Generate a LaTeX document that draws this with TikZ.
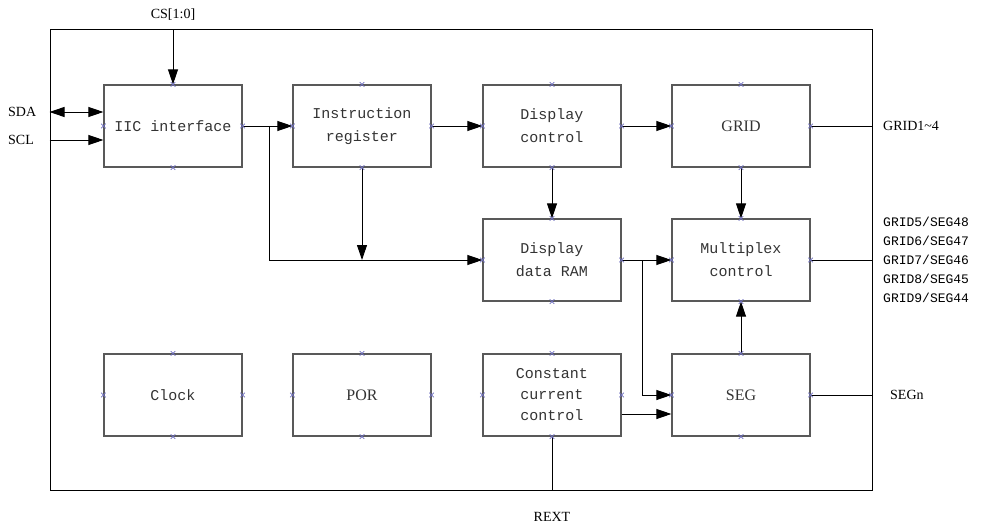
\documentclass[tikz,border=0pt]{standalone}
\usepackage{fontspec}
\setmainfont{Liberation Serif}
\setmonofont{Liberation Mono}
\usetikzlibrary{arrows.meta,positioning,shapes.misc}
\tikzset{
  block/.style={draw=black!65,line width=1.2pt,minimum width=138pt,minimum height=82pt,
    inner sep=0pt,align=center,text=black!80,font=\ttfamily\fontsize{15}{23}\selectfont},
  sig/.style={line width=0.9pt},
  arr/.style={sig,-{Triangle[length=15pt,width=10pt]}},
  pin/.style={font=\fontsize{14}{19}\selectfont,inner sep=0pt},
  cmark/.style={cross out,draw={rgb,255:red,110;green,110;blue,190},line width=0.6pt,
    minimum size=4pt,inner sep=0pt}
}
\begin{document}
\begin{tikzpicture}[x=1pt,y=-1pt]
\useasboundingbox (0,0) rectangle (994,532);
% chip outline
\node[draw,line width=1pt,minimum width=822pt,minimum height=460pt,inner sep=0pt] (chip) at (461,260) {};
% blocks
\node[block] (iic) at (173,126) {IIC interface};
\node[block] (instr) at (362,126) {Instruction\\register};
\node[block] (dispctl) at (552,126) {Display\\control};
\node[block] (grid) at (741,126) {\rmfamily\fontsize{16}{19}\selectfont GRID};
\node[block] (ram) at (552,260) {Display\\data RAM};
\node[block] (mux) at (741,260) {Multiplex\\control};
\node[block] (clock) at (173,395) {Clock};
\node[block] (por) at (362,395) {\rmfamily\fontsize{16}{19}\selectfont POR};
\node[block,font=\ttfamily\fontsize{15}{21}\selectfont] (ccc) at (552,395) {Constant\\current\\control};
\node[block] (seg) at (741,395) {\rmfamily\fontsize{16}{19}\selectfont SEG};
% pins
\node[pin] (cs) at (173,15) {CS[1:0]};
\node[pin,anchor=west] (sda) at (8,112) {SDA};
\node[pin,anchor=west] (scl) at (8,140) {SCL};
\node[pin,anchor=west] (gridout) at (883,126) {GRID1\textasciitilde4};
\node[pin,anchor=west,align=left,font=\ttfamily\fontsize{13}{19}\selectfont] (muxout) at (883,260)
  {GRID5/SEG48\\GRID6/SEG47\\GRID7/SEG46\\GRID8/SEG45\\GRID9/SEG44};
\node[pin,anchor=west] (segout) at (890,395) {SEGn};
\node[pin] (rext) at (552,517) {REXT};
\coordinate (tap1) at (269,126);
\coordinate (tap2) at (642,260);
% connections
\draw[arr] (chip.north -| iic.north) -- (iic.north);
\draw[sig,{Triangle[length=15pt,width=10pt]}-{Triangle[length=15pt,width=10pt]}] (chip.west |- sda) -- (iic.west |- sda);
\draw[arr] (chip.west |- scl) -- (iic.west |- scl);
\draw[arr] (iic) -- (instr);
\draw[arr] (tap1) |- (ram.west);
\draw[arr] (instr.south) -- (instr.south |- ram.west);
\draw[arr] (instr) -- (dispctl);
\draw[arr] (dispctl) -- (ram);
\draw[arr] (dispctl) -- (grid);
\draw[arr] (grid) -- (mux);
\draw[arr] (ram) -- (mux);
\draw[arr] (tap2) |- (seg.west);
\draw[arr] ([yshift=-19pt]ccc.east) -- ([yshift=-19pt]seg.west);
\draw[arr] (seg) -- (mux);
\draw[sig] (grid.east) -- (chip.east |- grid.east);
\draw[sig] (mux.east) -- (chip.east |- mux.east);
\draw[sig] (seg.east) -- (chip.east |- seg.east);
\draw[sig] (ccc.south) -- (chip.south -| ccc.south);
% connection points
\foreach \n in {iic,instr,dispctl,grid,ram,mux,clock,por,ccc,seg}
  \foreach \a in {north,south,east,west}
    \node[cmark] at (\n.\a) {};
\end{tikzpicture}
\end{document}
